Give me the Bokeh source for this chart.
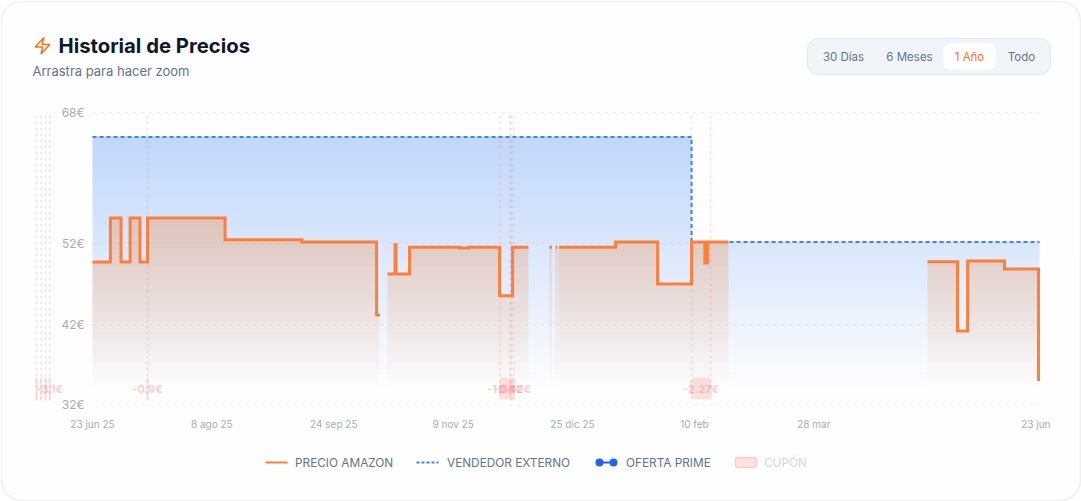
import numpy as np
from bokeh.plotting import figure
from bokeh.models import BoxAnnotation, Label, PolyAnnotation, Arrow, FixedTicker, Range1d
from bokeh.embed import file_html
from bokeh.resources import INLINE

# ---- data (days since 23 jun 25, prices in euro) ----
amazon_days = [0, 6.9, 11, 14.5, 18.3, 21.2, 51.1, 80.7, 109.5, 110.8, 113.7, 116.6, 117.0, 122.2,
               141.5, 144.9, 156.9, 161.9, 168, 176.1, 177.1, 178.5, 179.2, 179.8, 201.6, 217.8,
               230.9, 236.0, 237.0, 245.1, 321.8, 333.4, 337.3, 351.5, 364.6]
amazon_prices = [49.57, 55, 49.57, 55, 49.57, 55, 52.3, 52.04, 43.04, np.nan, 48.1, 51.7, 48.1, 51.4,
                 51.3, 51.4, 45.4, 51.4, np.nan, 51.4, np.nan, 51.4, np.nan, 51.4, 52.04, 46.86,
                 52.04, 49.45, 52.04, np.nan, 49.6, 41.06, 49.7, 48.7, 34.9]
seller_days = [0, 230.9, 365]
seller_prices = [64.98, 52.04, 52.04]

coupon_start = [-21.6, -19.8, -18.1, -16.5, 21.2, 157.1, 161.3, 230.9]
coupon_end = [-21.6, -19.8, -18.1, -16.5, 21.2, 160.9, 162.3, 238.2]
coupon_labels = ["", "", "", "-3.1€", "-0.9€", "-1.04€", "-0.42€", "-2.27€"]

y_ticks = [32, 41.86, 51.85, 68]
y_labels = ["32€", "42€", "52€", "68€"]
x_ticks = [0, 46, 93, 139, 185, 232, 278, 363.6]
x_labels = ["23 jun 25", "8 ago 25", "24 sep 25", "9 nov 25", "25 dic 25", "10 feb", "28 mar", "23 jun"]
ranges = ["30 Días", "6 Meses", "1 Año", "Todo"]

FRAME_L, FRAME_R, FRAME_T, FRAME_B = 92, 1039, 112, 404
W, H = 1081, 501
sx = (FRAME_R - FRAME_L) / 365
sy = (FRAME_B - FRAME_T) / 36
X = lambda px: (px - FRAME_L) / sx
Y = lambda py: 32 + (FRAME_B - py) / sy

p = figure(width=W, height=H, output_backend="svg", toolbar_location=None,
           x_range=Range1d(X(0), X(W)), y_range=Range1d(Y(H), Y(0)),
           min_border=0, background_fill_color=None, border_fill_color="#ffffff",
           styles={"position": "absolute", "left": "0", "top": "0"})
p.outline_line_color = None

# axes, fixed to the plot corner inside the full-size frame
for ax in (p.xaxis[0], p.yaxis[0]):
    ax.axis_line_color = None
    ax.major_tick_line_color = None
    ax.minor_tick_line_color = None
    ax.major_label_text_font = "Inter"
    ax.major_label_text_color = "#a8acb7"
p.xaxis[0].fixed_location = 32
p.yaxis[0].fixed_location = 0
p.xaxis[0].ticker = FixedTicker(ticks=x_ticks)
p.xaxis[0].major_label_overrides = dict(zip(x_ticks, x_labels))
p.xaxis[0].major_label_text_font_size = "10px"
p.xaxis[0].major_label_standoff = 7
p.yaxis[0].ticker = FixedTicker(ticks=y_ticks)
p.yaxis[0].major_label_overrides = dict(zip(y_ticks, y_labels))
p.yaxis[0].major_label_text_font_size = "12px"
p.yaxis[0].major_label_standoff = 2
p.xgrid.visible = False
p.ygrid.visible = False

# card
p.add_layout(BoxAnnotation(left=X(1), right=X(1080), top=Y(1), bottom=Y(500), fill_color="#fefefe",
                           fill_alpha=1, line_color="#eef0f3", line_alpha=1, line_width=1.5, border_radius=20,
                           level="image"))

p.segment(x0=[0] * len(y_ticks), x1=[365] * len(y_ticks), y0=y_ticks, y1=y_ticks,
          line_color="#f0f1f5", line_width=1, line_dash="4 4", level="underlay")

# gradient areas, rasterised from the step series
cols, rows = FRAME_R - FRAME_L, FRAME_B - FRAME_T
day_c = (np.arange(cols) + 0.5) / sx
pri_c = 32 + (np.arange(rows) + 0.5) / sy


def step_at(days, prices, d):
    i = np.clip(np.searchsorted(days, d, side="right") - 1, 0, len(days) - 1)
    return np.asarray(prices, dtype=float)[i]


def area_img(days, prices, rgb, alpha_top, v_top, v_bottom):
    lvl = step_at(days, prices, day_c)
    a = np.clip((pri_c - v_bottom) / (v_top - v_bottom), 0, 1) * alpha_top
    A = np.outer(np.ones(cols), a).T
    with np.errstate(invalid="ignore"):
        mask = pri_c[:, None] <= lvl[None, :]
    A = (A * mask * 255).astype(np.uint32)
    return (A << 24) | (rgb[2] << 16) | (rgb[1] << 8) | rgb[0]


blue = area_img(seller_days, seller_prices, (59, 130, 246), 0.32, 65.0, 33.2)
orange = area_img(amazon_days, amazon_prices, (249, 115, 22), 0.28, 55.0, 33.6)
p.image_rgba(image=[blue], x=0, y=32, dw=365, dh=36)
p.image_rgba(image=[orange], x=0, y=32, dw=365, dh=36)


def expand(days, prices):
    xs, ys = [], []
    for i, (d, v) in enumerate(zip(days, prices)):
        next_d = days[i + 1] if i + 1 < len(days) else d
        xs += [d, next_d]
        ys += [v, v]
    return np.array(xs), np.array(ys)


# coupons
for s, e, t in zip(coupon_start, coupon_end, coupon_labels):
    ds = sorted({s, e})
    p.segment(x0=ds, x1=ds, y0=[Y(400)] * len(ds), y1=[68] * len(ds), line_color="#f87171",
              line_alpha=0.22, line_width=1.5, line_dash="3 3")
    p.add_layout(BoxAnnotation(left=s - 1 / sx, right=e + 1 / sx, top=Y(377), bottom=Y(399),
                               fill_color="#f87171", fill_alpha=0.22, line_color=None, border_radius=5))
    if t:
        p.add_layout(Label(x=(s + e) / 2, y=Y(388), text=t, text_font="Inter", text_font_size="11px",
                           text_font_style="bold", text_color="#f87171", text_alpha=0.35,
                           text_align="center", text_baseline="middle"))

xa, ya = expand(amazon_days, amazon_prices)
p.line(seller_days[:1] + [seller_days[1], seller_days[1], seller_days[2]],
       [seller_prices[0], seller_prices[0], seller_prices[1], seller_prices[2]],
       line_color="#3b82f6", line_width=2, line_dash="4 3")
p.line(xa, ya, line_color="#ff7f3a", line_width=3, line_join="miter")

# header
p.add_layout(PolyAnnotation(xs=[X(v) for v in [34.6, 43.5, 41.5, 49.3, 40.5, 42.2]],
                            ys=[Y(v) for v in [46.5, 37, 44, 44, 53.5, 46.5]],
                            fill_color=None, line_color="#f97316", line_alpha=1, line_width=1.5))
p.add_layout(Label(x=X(58), y=Y(45), text="Historial de Precios", text_font="Inter", text_font_size="20.3px",
                   text_font_style="bold", text_color="#0f172a", text_baseline="middle"))
p.add_layout(Label(x=X(32), y=Y(70.5), text="Arrastra para hacer zoom", text_font="Inter", text_font_size="13px",
                   text_color="#64748b", text_baseline="middle"))

# range buttons
p.add_layout(BoxAnnotation(left=X(807), right=X(1050), top=Y(38), bottom=Y(74), fill_color="#f1f4f9", fill_alpha=1,
                           line_color="#e2e8f0", line_alpha=1, line_width=1, border_radius=10))
p.add_layout(BoxAnnotation(left=X(943), right=X(995), top=Y(43), bottom=Y(69), fill_color="#ffffff", fill_alpha=1,
                           line_color=None, border_radius=6))
for t, cx, c in zip(ranges, [843, 909, 969, 1021], ["#64748b", "#64748b", "#f97316", "#64748b"]):
    p.add_layout(Label(x=X(cx), y=Y(56), text=t, text_font="Inter", text_font_size="11.5px", text_color=c,
                       text_align="center", text_baseline="middle"))

# legend
LY = 462
p.add_layout(Arrow(end=None, x_start=X(265), x_end=X(287), y_start=Y(LY), y_end=Y(LY), line_color="#ff7f3a", line_width=2))
p.add_layout(Arrow(end=None, x_start=X(416), x_end=X(438), y_start=Y(LY), y_end=Y(LY), line_color="#3b82f6", line_width=2,
                   line_dash="3 2"))
p.add_layout(Arrow(end=None, x_start=X(599), x_end=X(613), y_start=Y(LY), y_end=Y(LY), line_color="#2563eb", line_width=2))
for cx in (599, 613):
    p.add_layout(BoxAnnotation(left=X(cx - 4), right=X(cx + 4), top=Y(LY - 4), bottom=Y(LY + 4), fill_color="#2563eb",
                               fill_alpha=1, line_color=None, border_radius=4))
p.add_layout(BoxAnnotation(left=X(735), right=X(756), top=Y(457), bottom=Y(467), fill_color="#fee2e2", fill_alpha=1,
                           line_color="#fecaca", line_alpha=1, line_width=1.5, border_radius=3))
for t, lx, c in [("PRECIO AMAZON", 294.5, "#64748b"), ("VENDEDOR EXTERNO", 446.5, "#64748b"),
                 ("OFERTA PRIME", 625.5, "#64748b"), ("CUPÓN", 763.5, "#d3d7e0")]:
    p.add_layout(Label(x=X(lx), y=Y(LY), text=t, text_font="Inter", text_font_size="11.8px", text_color=c,
                       text_baseline="middle"))

open("out.html", "w").write(file_html(p, INLINE))
